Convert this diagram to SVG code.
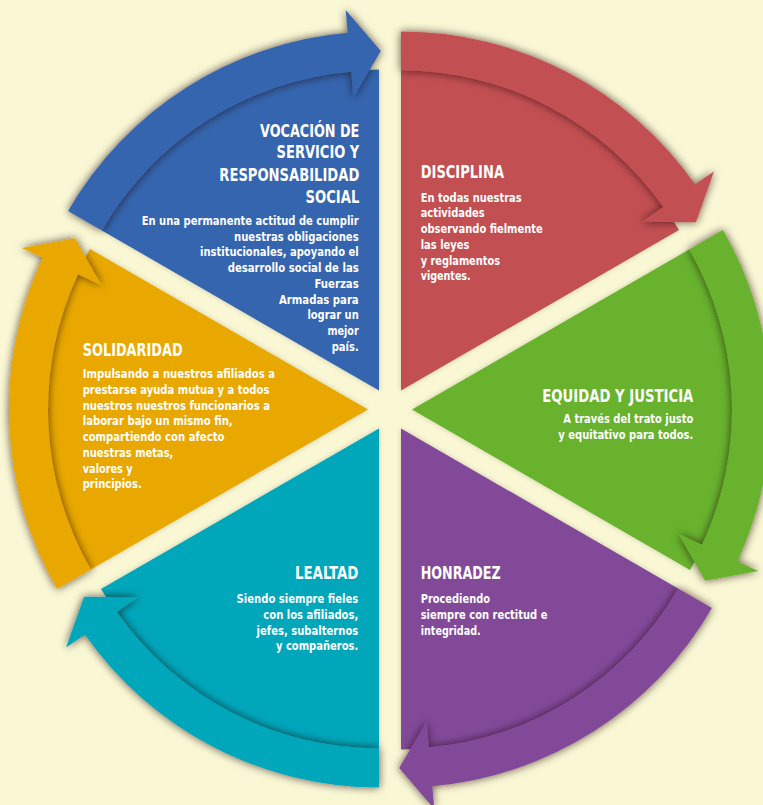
<svg xmlns="http://www.w3.org/2000/svg" width="763" height="805" viewBox="0 0 763 805">
<defs>
<filter id="bandShadow" x="-20%" y="-20%" width="140%" height="140%">
<feDropShadow dx="0" dy="0" stdDeviation="4.5" flood-color="#1a1000" flood-opacity="0.7"/>
</filter>
<filter id="wedgeShadow" x="-20%" y="-20%" width="140%" height="140%">
<feDropShadow dx="0" dy="0" stdDeviation="2.5" flood-color="#000" flood-opacity="0.2"/>
</filter>
<style>
.t{font-family:'Liberation Sans Narrow','DejaVu Sans Condensed','Liberation Sans',sans-serif;font-weight:bold;fill:#fff;font-size:18.5px}
.b{font-family:'Liberation Sans Narrow','DejaVu Sans Condensed','Liberation Sans',sans-serif;font-weight:bold;fill:#fff;font-size:13px}
.e{text-anchor:end}
.w{filter:url(#wedgeShadow)}
.a{filter:url(#bandShadow)}
</style>
</defs>
<rect width="763" height="805" fill="#FAF7D4"/>

<g id="vocacion">
<path class="w" fill="#3565AE" d="M379,390.5 L379,69.5 A321,321 0 0 0 101.01,230 Z"/>
<g class="t e">
<text x="359.3" y="136.7" textLength="99.3" lengthAdjust="spacingAndGlyphs">VOCACIÓN DE</text>
<text x="359.3" y="158.3" textLength="82.7" lengthAdjust="spacingAndGlyphs">SERVICIO Y</text>
<text x="359.3" y="180.7" textLength="140" lengthAdjust="spacingAndGlyphs">RESPONSABILIDAD</text>
<text x="359.3" y="202.7" textLength="53.7" lengthAdjust="spacingAndGlyphs">SOCIAL</text>
</g>
<g class="b e">
<text x="358.7" y="225" textLength="217" lengthAdjust="spacingAndGlyphs">En una permanente actitud de cumplir</text>
<text x="358.7" y="240.7" textLength="124.7" lengthAdjust="spacingAndGlyphs">nuestras obligaciones</text>
<text x="358.7" y="256.4" textLength="158.7" lengthAdjust="spacingAndGlyphs">institucionales, apoyando el</text>
<text x="358.7" y="272.1" textLength="131" lengthAdjust="spacingAndGlyphs">desarrollo social de las</text>
<text x="358.7" y="287.8" textLength="44.3" lengthAdjust="spacingAndGlyphs">Fuerzas</text>
<text x="358.7" y="303.5" textLength="79.7" lengthAdjust="spacingAndGlyphs">Armadas para</text>
<text x="358.7" y="319.2" textLength="51.3" lengthAdjust="spacingAndGlyphs">lograr un</text>
<text x="358.7" y="334.9" textLength="31.3" lengthAdjust="spacingAndGlyphs">mejor</text>
<text x="358.7" y="350.6" textLength="27" lengthAdjust="spacingAndGlyphs">país.</text>
</g>
</g>

<g id="disciplina">
<path class="w" fill="#C25051" d="M401,390.5 L678.99,230 A321,321 0 0 0 401,69.5 Z"/>
<text class="t" x="420.7" y="178.3" textLength="83.3" lengthAdjust="spacingAndGlyphs">DISCIPLINA</text>
<g class="b">
<text x="420.7" y="201.7" textLength="101" lengthAdjust="spacingAndGlyphs">En todas nuestras</text>
<text x="420.7" y="217.4" textLength="64" lengthAdjust="spacingAndGlyphs">actividades</text>
<text x="420.7" y="233.1" textLength="122" lengthAdjust="spacingAndGlyphs">observando fielmente</text>
<text x="420.7" y="248.8" textLength="48.7" lengthAdjust="spacingAndGlyphs">las leyes</text>
<text x="420.7" y="264.5" textLength="79.3" lengthAdjust="spacingAndGlyphs">y reglamentos</text>
<text x="420.7" y="280.2" textLength="50" lengthAdjust="spacingAndGlyphs">vigentes.</text>
</g>
</g>

<g id="equidad">
<path class="w" fill="#67B22F" d="M412,409.5 L689.99,570 A321,321 0 0 0 689.99,249 Z"/>
<text class="t e" x="693.3" y="401.7" textLength="151" lengthAdjust="spacingAndGlyphs">EQUIDAD Y JUSTICIA</text>
<g class="b e">
<text x="693.3" y="423.3" textLength="130" lengthAdjust="spacingAndGlyphs">A través del trato justo</text>
<text x="693.3" y="439" textLength="135" lengthAdjust="spacingAndGlyphs">y equitativo para todos.</text>
</g>
</g>

<g id="honradez">
<path class="w" fill="#824A99" d="M401,428.5 L401,749.5 A321,321 0 0 0 678.99,589 Z"/>
<text class="t" x="420.7" y="579.3" textLength="80" lengthAdjust="spacingAndGlyphs">HONRADEZ</text>
<g class="b">
<text x="420.7" y="603.3" textLength="69.3" lengthAdjust="spacingAndGlyphs">Procediendo</text>
<text x="420.7" y="619" textLength="126.7" lengthAdjust="spacingAndGlyphs">siempre con rectitud e</text>
<text x="420.7" y="634.7" textLength="60" lengthAdjust="spacingAndGlyphs">integridad.</text>
</g>
</g>

<g id="lealtad">
<path class="w" fill="#05A6BA" d="M379,428.5 L101.01,589 A321,321 0 0 0 379,749.5 Z"/>
<text class="t e" x="358.3" y="579.3" textLength="63.3" lengthAdjust="spacingAndGlyphs">LEALTAD</text>
<g class="b e">
<text x="358.3" y="603.3" textLength="121.7" lengthAdjust="spacingAndGlyphs">Siendo siempre fieles</text>
<text x="358.3" y="619" textLength="95" lengthAdjust="spacingAndGlyphs">con los afiliados,</text>
<text x="358.3" y="634.7" textLength="101.7" lengthAdjust="spacingAndGlyphs">jefes, subalternos</text>
<text x="358.3" y="650.4" textLength="82.3" lengthAdjust="spacingAndGlyphs">y compañeros.</text>
</g>
</g>

<g id="solidaridad">
<path class="w" fill="#E9A801" d="M368,409.5 L90.01,249 A321,321 0 0 0 90.01,570 Z"/>
<text class="t" x="82.7" y="356" textLength="100" lengthAdjust="spacingAndGlyphs">SOLIDARIDAD</text>
<g class="b">
<text x="82.7" y="378.3" textLength="192.3" lengthAdjust="spacingAndGlyphs">Impulsando a nuestros afiliados a</text>
<text x="82.7" y="394" textLength="186.7" lengthAdjust="spacingAndGlyphs">prestarse ayuda mutua y a todos</text>
<text x="82.7" y="409.7" textLength="187.3" lengthAdjust="spacingAndGlyphs">nuestros nuestros funcionarios a</text>
<text x="82.7" y="425.4" textLength="150" lengthAdjust="spacingAndGlyphs">laborar bajo un mismo fin,</text>
<text x="82.7" y="441.1" textLength="141.7" lengthAdjust="spacingAndGlyphs">compartiendo con afecto</text>
<text x="82.7" y="456.8" textLength="90.7" lengthAdjust="spacingAndGlyphs">nuestras metas,</text>
<text x="82.7" y="472.5" textLength="50" lengthAdjust="spacingAndGlyphs">valores y</text>
<text x="82.7" y="488.2" textLength="59" lengthAdjust="spacingAndGlyphs">principios.</text>
</g>
</g>

<g id="connectors">
<path class="a" fill="#3565AE" d="M68.1,211 A359,359 0 0 1 347.71,32.87 L345.71,9.95 L380.78,51 L353.38,97.62 L351.11,71.72 A320,320 0 0 0 101.87,230.5 Z"/>
<path class="a" fill="#C25051" d="M401,31.5 A359,359 0 0 1 695.08,184.59 L713.92,171.39 L695.9,222.29 L641.83,221.87 L663.13,206.96 A320,320 0 0 0 401,70.5 Z"/>
<path class="a" fill="#67B22F" d="M722.9,230 A359,359 0 0 1 737.36,561.22 L758.21,570.94 L705.12,580.79 L678.45,533.75 L702.02,544.74 A320,320 0 0 0 689.13,249.5 Z"/>
<path class="a" fill="#824A99" d="M711.9,608 A359,359 0 0 1 432.29,786.13 L434.29,809.05 L399.22,768 L426.62,721.38 L428.89,747.28 A320,320 0 0 0 678.13,588.5 Z"/>
<path class="a" fill="#05A6BA" d="M379,787.5 A359,359 0 0 1 84.92,634.41 L66.08,647.61 L84.1,596.71 L138.17,597.13 L116.87,612.04 A320,320 0 0 0 379,748.5 Z"/>
<path class="a" fill="#E9A801" d="M57.1,589 A359,359 0 0 1 42.64,257.78 L21.79,248.06 L74.88,238.21 L101.55,285.25 L77.98,274.26 A320,320 0 0 0 90.87,569.5 Z"/>
</g>
</svg>
